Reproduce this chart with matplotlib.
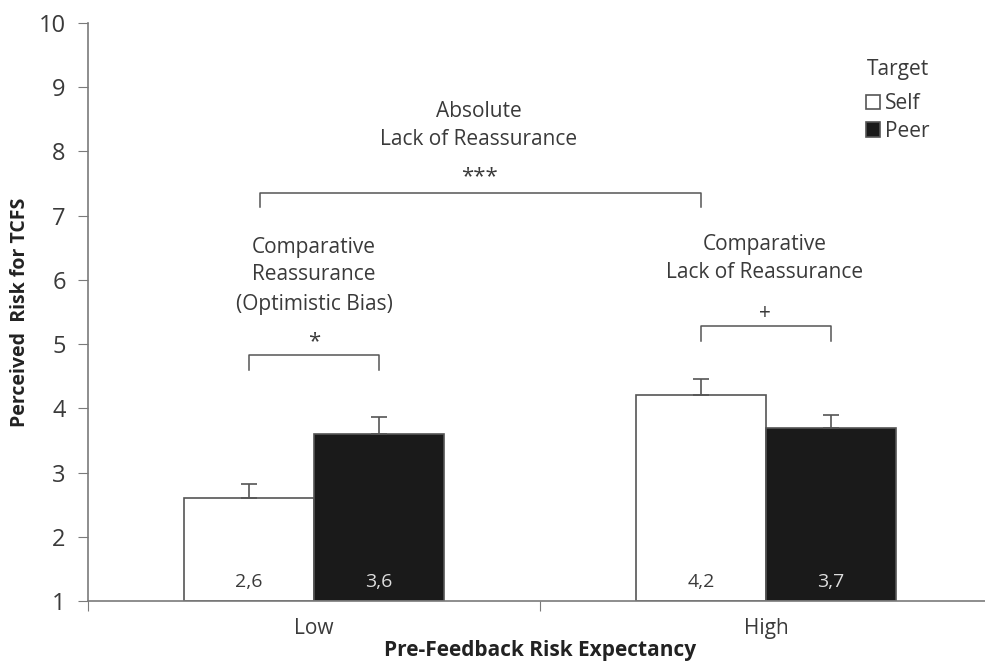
import matplotlib.pyplot as plt
import numpy as np

# Datos
categories = ['Low', 'High']
series = ['Self', 'Peer']
self_vals = [2.6, 4.2]
peer_vals = [3.6, 3.7]
self_err = [0.22, 0.26]
peer_err = [0.26, 0.20]
self_labels = ['2,6', '4,2']
peer_labels = ['3,6', '3,7']
yticks = [1, 2, 3, 4, 5, 6, 7, 8, 9, 10]

plt.rcParams['font.family'] = ['Open Sans', 'DejaVu Sans']

fig = plt.figure(figsize=(9.85, 6.64), dpi=100)
ax = fig.add_axes([0.0893, 0.0949, 0.9177, 0.8705])

x = np.arange(len(categories))
w = 0.288
bottom = 1
grey = '#7a7a7a'
edge = '#555555'
txt = '#3a3a3a'

b1 = ax.bar(x - w / 2, np.array(self_vals) - bottom, w, bottom=bottom,
            color='white', edgecolor=edge, linewidth=1.2, label='Self')
b2 = ax.bar(x + w / 2, np.array(peer_vals) - bottom, w, bottom=bottom,
            color='#1a1a1a', edgecolor=edge, linewidth=1.2, label='Peer')
ax.errorbar(x - w / 2, self_vals, yerr=[np.zeros(2), self_err], fmt='none',
            ecolor=edge, elinewidth=1.2, capsize=6, capthick=1.2)
ax.errorbar(x + w / 2, peer_vals, yerr=[np.zeros(2), peer_err], fmt='none',
            ecolor=edge, elinewidth=1.2, capsize=6, capthick=1.2)

for i in range(len(categories)):
    ax.text(x[i] - w / 2, 1.3, self_labels[i], ha='center', va='center',
            fontsize=14, color=txt)
    ax.text(x[i] + w / 2, 1.3, peer_labels[i], ha='center', va='center',
            fontsize=14, color='#dddddd')

ax.set_xlim(-0.5, 1.5)
ax.set_ylim(1, 10)
ax.set_yticks(yticks)
ax.set_xticks([-0.5, 0.5, 1.5])
ax.set_xticklabels([])
ax.set_xticks(x, minor=True)
ax.set_xticklabels(categories, minor=True, fontsize=15, color=txt)
ax.tick_params(axis='x', which='minor', length=0, pad=12)
ax.tick_params(axis='x', which='major', length=7, color=grey)
ax.tick_params(axis='y', labelsize=17, length=7, color=grey, labelcolor=txt, pad=9)
for s in ['top', 'right']:
    ax.spines[s].set_visible(False)
for s in ['left', 'bottom']:
    ax.spines[s].set_color(grey)
    ax.spines[s].set_linewidth(1.2)

ax.set_ylabel('Perceived  Risk for TCFS', fontsize=14, fontweight='bold',
              labelpad=6, color='#222222')
ax.set_xlabel('Pre-Feedback Risk Expectancy', fontsize=15, fontweight='bold',
              labelpad=1, color='#222222')


def bracket(x0, x1, ytop, drop=0.23):
    ax.plot([x0, x0, x1, x1], [ytop - drop, ytop, ytop, ytop - drop],
            color=edge, lw=1.1, clip_on=False)


def lines(xc, ys, texts):
    for yy, t in zip(ys, texts):
        ax.text(xc, yy, t, ha='center', va='center', fontsize=15, color=txt)


# Absolute lack of reassurance
bracket(-0.12, x[1] - w / 2, 7.36)
lines(0.365, [8.62, 8.18], ['Absolute', 'Lack of Reassurance'])
ax.text(0.365, 7.6, '***', ha='center', va='center', fontsize=16, color=txt)

# Comparative reassurance
bracket(x[0] - w / 2, x[0] + w / 2, 4.83)
lines(0.0, [6.51, 6.08, 5.61], ['Comparative', 'Reassurance', '(Optimistic Bias)'])
ax.text(0.0, 5.03, '*', ha='center', va='center', fontsize=16, color=txt)

# Comparative lack of reassurance
bracket(x[1] - w / 2, x[1] + w / 2, 5.28)
lines(0.998, [6.545, 6.11], ['Comparative', 'Lack of Reassurance'])
ax.text(0.998, 5.47, '+', ha='center', va='center', fontsize=15, color=txt)

leg = ax.legend(handles=[b1, b2], title='Target', frameon=False, fontsize=15,
                title_fontsize=15, handlelength=0.7, handleheight=0.7,
                handletextpad=0.25, labelspacing=0.3,
                loc='upper right', bbox_to_anchor=(0.963, 0.94),
                bbox_transform=fig.transFigure)
leg._legend_box.sep = 10
leg.get_title().set_color(txt)
for t in leg.get_texts():
    t.set_color(txt)

plt.savefig('out.png', dpi=100)
